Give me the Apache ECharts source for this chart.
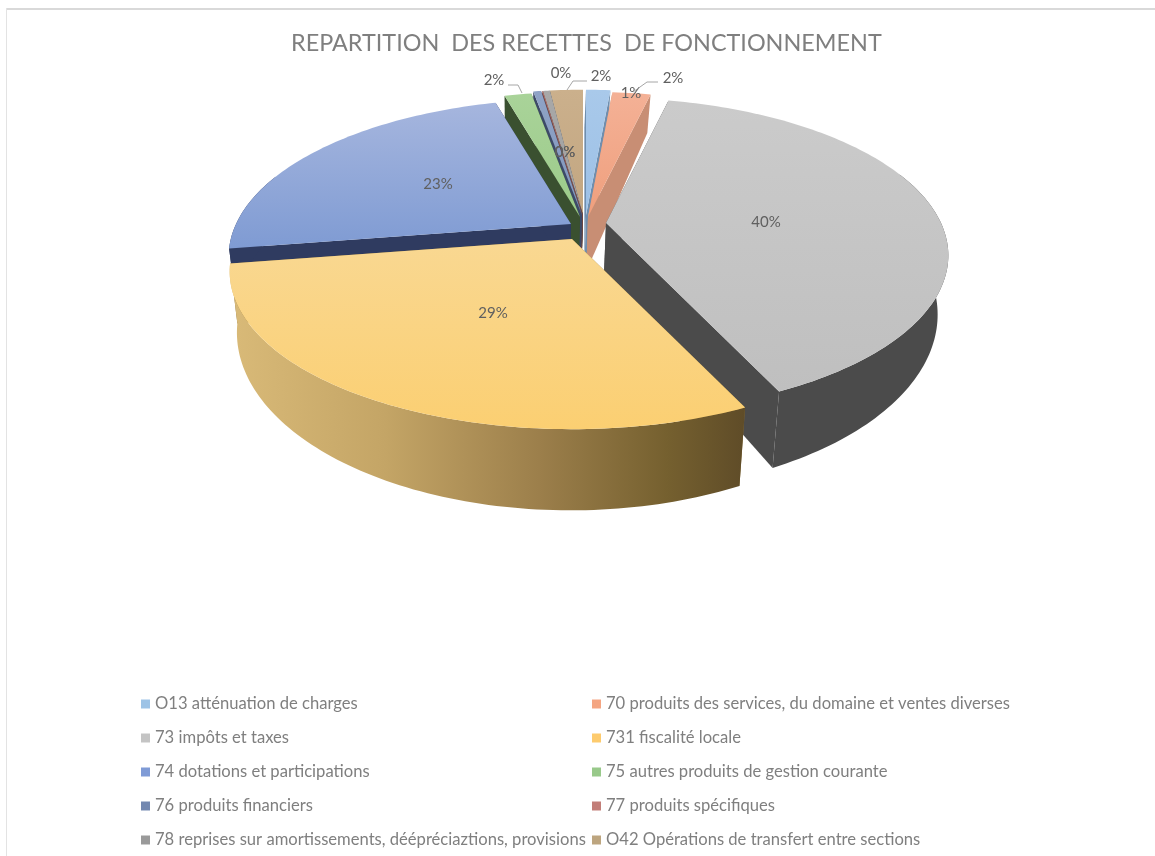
<!DOCTYPE html>
<html>
<head>
<meta charset="utf-8">
<style>html,body{margin:0;padding:0;background:#fff}#c{width:1155px;height:856px}</style>
<script src="https://cdn.jsdelivr.net/npm/echarts@6/dist/echarts.min.js"></script>
</head>
<body>
<div id="c"></div>
<script>
const titleText = 'REPARTITION  DES RECETTES  DE FONCTIONNEMENT';
const categories = [
  'O13 atténuation de charges',
  '70 produits des services, du domaine et ventes diverses',
  '73 impôts et taxes',
  '731 fiscalité locale',
  '74 dotations et participations',
  '75 autres produits de gestion courante',
  '76 produits financiers',
  '77 produits spécifiques',
  '78 reprises sur amortissements, déépréciaztions, provisions',
  'O42 Opérations de transfert entre sections'
];
const shares = [1.4, 2.2, 39.5, 29.4, 23.15, 1.55, 0.45, 0.05, 0.4, 1.9];

// appearance, per slice
const legendColors = ['#9dc3e6','#f4a582','#c4c4c4','#fdcb6e','#7f9bd6','#98c98a','#7388b0','#c27e78','#9a9a9a','#bda57f'];
const topColors = [['#a9c9ea','#9cc0e6'],['#f4b196','#ef9f7d'],['#cbcbcb','#bfbfbf'],['#f9d892','#fbcf72'],['#a6b6de','#7f9bd3'],['#a9d399','#9ccb8a'],['#8fa3c6','#8197bd'],['#b87a75','#b87a75'],['#a8a8a8','#a0a0a0'],['#cbb08c','#c2a681']];
const wallColors = ['#6f8eae','#c88e74','#4b4b4b','#8a6f35','#2f3b60','#3a5030','#3d4a68','#6e4643','#555555','#5c4c36'];
const explodeOffsets = [[2,0],[4,2],[22,8],[-12,24],[-13,9],[-4,2],[-2,0],[-1,0],[-1,0],[-1,0]];
const paintOrder = [9,8,7,6,5,0,1,4,2,3];
const labelPos = [[631,93],[673,78],[766,222],[493,313],[438,184],[494,80],[565,152],[565,152],[561,73],[601,76]];
const leaders = [
  [[658,82],[647,82],[633,92]],
  [[508,85],[518,85],[522,93]],
  [[587,81],[573,81],[567,90]]
];

// projection of the pie disc
const CX = 584, CY = 215, RX = 335, RY = 151, PERSP = 0.206, INNER = 0.975, PIVOT = 520, WALL_FROM_V = -0.35;
function proj(u, v, off) {
  const s = 1 / (1 - PERSP * v);
  return [CX + RX * u * s + off[0], CY + RY * v * s + off[1]];
}
function lower(p) {
  const d = 38 + (p[1] - 90) * 42 / 330;
  return [PIVOT + (p[0] - PIVOT) * INNER, p[1] + d];
}
const total = shares.reduce((a, b) => a + b, 0);
const startAngles = [];
shares.reduce((acc, v, i) => { startAngles[i] = acc / total * 2 * Math.PI; return acc + v; }, 0);

function rim(i, nearOnly) {
  const a0 = startAngles[i], a1 = a0 + shares[i] / total * 2 * Math.PI;
  const n = Math.max(3, Math.ceil((a1 - a0) / 0.02));
  const pts = [];
  for (let k = 0; k <= n; k++) {
    const a = a0 + (a1 - a0) * k / n;
    if (nearOnly && -Math.cos(a) < WALL_FROM_V) continue;
    pts.push(proj(Math.sin(a), -Math.cos(a), explodeOffsets[i]));
  }
  return pts;
}
function vert(c) { return {type:'linear',x:0,y:0,x2:0,y2:1,colorStops:[{offset:0,color:c[0]},{offset:1,color:c[1]}]}; }
const yellowWall = {type:'linear',x:0,y:0,x2:1,y2:0,colorStops:[
  {offset:0,color:'#d9ba78'},{offset:0.3,color:'#c4a566'},{offset:0.6,color:'#9c7f4b'},{offset:0.85,color:'#75602f'},{offset:1,color:'#5f4c28'}]};

function renderSlice(params, api) {
  const i = params.dataIndex;
  const base = paintOrder.indexOf(i) * 10 + 1;
  const apex = proj(0, 0, explodeOffsets[i]);
  const pts = rim(i, false);
  const nearPts = rim(i, true);
  const wall = i === 3 ? yellowWall : wallColors[i];
  const poly = (points, fill, z2) => ({type:'polygon', z2, shape:{points}, style:{fill}});
  const first = pts[0], last = pts[pts.length - 1];
  const children = [
    poly([apex, first, lower(first), lower(apex)], wallColors[i], base),
    poly([apex, last, lower(last), lower(apex)], wallColors[i], base)
  ];
  if (nearPts.length > 1) children.push(poly(nearPts.concat(nearPts.map(lower).reverse()), wall, base + 1));
  children.push(poly([apex].concat(pts), vert(topColors[i]), base + 2));
  children.push({type:'text', z2:200, style:{
    text: Math.round(api.value(0)) + '%', x: labelPos[i][0], y: labelPos[i][1],
    fill:'#606060', font:'15px Lato', align:'center', verticalAlign:'middle'}});
  return {type:'group', children};
}

const legendLeft = [0,2,4,6,8].map(i => categories[i]);
const legendRight = [1,3,5,7,9].map(i => categories[i]);
const legendBase = {orient:'vertical', selectedMode:false, itemWidth:9, itemHeight:9, itemGap:16, icon:'rect',
  textStyle:{color:'#7f7f7f', fontFamily:'Lato', fontSize:16.6, lineHeight:18}, padding:0};

const chart = echarts.init(document.getElementById('c'), null, {renderer:'canvas'});
chart.setOption({
  animation:false,
  backgroundColor:'#ffffff',
  title:{text:titleText, left:291, top:32, padding:0, textStyle:{color:'#7f7f7f', fontFamily:'Lato', fontWeight:'normal', fontSize:23.4}},
  legend:[
    Object.assign({}, legendBase, {left:141, top:695, data:legendLeft}),
    Object.assign({}, legendBase, {left:592, top:695, data:legendRight})
  ],
  graphic:[
    {type:'rect', shape:{x:6,y:8,width:1149,height:2}, style:{fill:'#d9d9d9'}, silent:true},
    {type:'rect', shape:{x:6,y:8,width:1,height:848}, style:{fill:'#e3e3e3'}, silent:true}
  ].concat(leaders.map(points => ({type:'polyline', shape:{points}, z:10, style:{stroke:'#a6a6a6', lineWidth:1, fill:null}, silent:true}))),
  series:[{
    type:'custom', name:'Recettes', coordinateSystem:'none', clip:false, silent:true,
    renderItem:renderSlice,
    data:shares.map(v => [v])
  }].concat(categories.map((name, i) => ({
    type:'custom', name, coordinateSystem:'none', renderItem:() => null, data:[], itemStyle:{color:legendColors[i]}
  })))
});
</script>
</body>
</html>
